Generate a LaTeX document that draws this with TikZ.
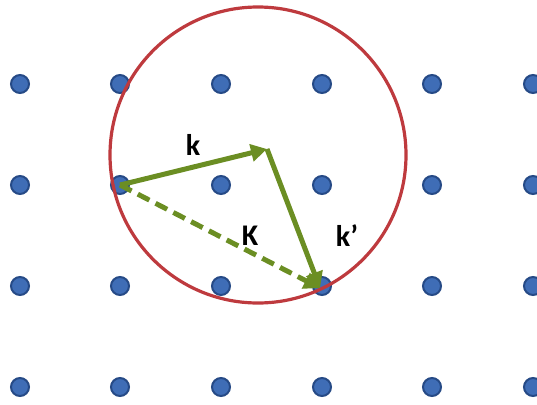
\documentclass[tikz,border=0pt]{standalone}
\usepackage{fontspec}
\setmainfont{Carlito}
\usetikzlibrary{arrows.meta}
\definecolor{dotblue}{HTML}{3F6DB6}
\definecolor{dotedge}{HTML}{264A86}
\definecolor{ringred}{HTML}{BE3A3E}
\definecolor{vecgreen}{HTML}{6B8E23}
\tikzset{
  latt/.style={circle,fill=dotblue,draw=dotedge,line width=2pt,minimum size=18pt,inner sep=0pt},
  vec/.style={draw=vecgreen,line width=5pt,-{Triangle[length=16pt,width=17pt]}},
  lbl/.style={font=\bfseries\fontsize{30}{32}\selectfont,inner sep=0pt}
}
\begin{document}
\begin{tikzpicture}[x=1pt,y=-1pt]
\useasboundingbox (0,0) rectangle (537,404);
\foreach \c/\x in {1/20,2/120,3/221,4/322,5/432,6/533}{
  \foreach \r/\y in {1/84,2/185,3/286,4/387}{
    \node[latt] (d\c\r) at (\x,\y) {};
  }
}
\draw[ringred,line width=3.2pt] (258,155) circle[radius=148];
\coordinate (c) at (267,149);
\draw[vec] (d22.center) -- (c);
\draw[vec,line join=miter] (c) -- ([shift={(-2pt,-2pt)}]d43.center);
\draw[vec,dash pattern=on 13pt off 7pt] (d22.center) -- ([shift={(-2pt,-2pt)}]d43.center);
\node[lbl] (lk) at (193,145) {k};
\node[lbl] (lK) at (250,236) {K};
\node[lbl] (lkp) at (347,236) {k’};
\end{tikzpicture}
\end{document}
